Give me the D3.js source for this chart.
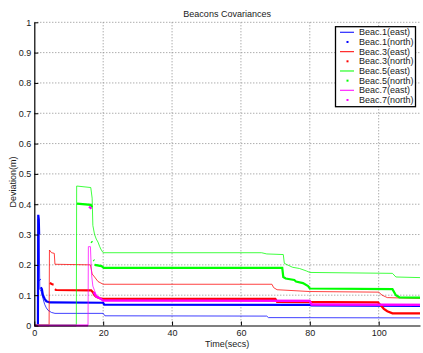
<!DOCTYPE html>
<html>
<head>
<meta charset="utf-8">
<script src="https://cdn.jsdelivr.net/npm/d3@7"></script>
<style>
  html, body { margin: 0; padding: 0; background: #fff; }
  svg { display: block; }
  text { font-family: "Liberation Sans", Arial, Helvetica, sans-serif; fill: #1a1a1a; }
</style>
</head>
<body>
<script>
// Axis ticks
const xTicks = [0, 20, 40, 60, 80, 100];
const yTicks = [0, 0.1, 0.2, 0.3, 0.4, 0.5, 0.6, 0.7, 0.8, 0.9, 1];
const yTickLabels = ["0", "0.1", "0.2", "0.3", "0.4", "0.5", "0.6", "0.7", "0.8", "0.9", "1"];

// Deviation traces [time (s), deviation (m)]; null marks a gap between dot runs
const b1East = [[0,0],[1.0,0],[1.1,0.35],[1.4,0.33],[1.6,0.12],[2.0,0.112],[2.5,0.09],[3.0,0.07],[3.5,0.058],[4.0,0.05],[5.0,0.043],[6.0,0.04],[20,0.04],[20.5,0.032],[67.5,0.031],[68,0.026],[112,0.025]];
const b1North = [[0,0],[1.05,0],[1.15,0.365],[1.3,0.35],[1.4,0.30],null,[1.6,0.152],[1.75,0.15],null,[1.9,0.126],[2.2,0.12],[2.5,0.1],[3.0,0.088],[3.5,0.08],[4.5,0.076],[20,0.075],[20.3,0.069],[80,0.068],[80.5,0.066],[112,0.065]];
const r3East = [[0,0],[4.3,0],[4.4,0.249],[5.0,0.24],[5.8,0.238],[6.0,0.202],[16.3,0.2],[16.8,0.17],[17.5,0.16],[18.5,0.145],[20,0.136],[69,0.136],[69.5,0.125],[70.5,0.118],[80,0.112],[100,0.11],[101,0.1],[102.5,0.092],[112,0.089]];
const r3North = [[0,0],[4.3,0],null,[4.5,0.14],[5.2,0.136],[5.6,0.135],null,[6.0,0.12],[6.3,0.117],[16.5,0.116],[17,0.11],[17.5,0.1],[18,0.095],[19,0.09],[20,0.088],[70,0.088],[70.5,0.078],[99.8,0.076],[100.5,0.068],[101.5,0.055],[102.5,0.047],[104,0.04],[112,0.04]];
const g5East = [[0,0],[12.2,0],[12.3,0.46],[16.4,0.455],[16.8,0.42],[17.0,0.33],[17.5,0.30],[18,0.285],[18.5,0.275],[19,0.26],[19.5,0.248],[20,0.24],[66,0.24],[67.5,0.236],[72.3,0.234],[72.6,0.205],[73.5,0.2],[75,0.192],[77,0.188],[79,0.18],[80,0.175],[104,0.172],[105,0.16],[112,0.158]];
const g5North = [[0,0],[12.2,0],null,[12.4,0.402],[16.4,0.398],[16.8,0.39],null,[16.55,0.277],[16.8,0.274],null,[17.2,0.216],[17.4,0.214],null,[17.5,0.2],[19.5,0.196],[20.2,0.19],[72,0.19],[72.3,0.16],[73,0.155],[75.5,0.15],[76,0.145],[78,0.14],[79.5,0.13],[80,0.122],[104,0.12],[105,0.1],[106,0.093],[112,0.092]];
const m7East = [[0,0],[15.6,0],[15.7,0.26],[16.3,0.26],[16.5,0.2],[16.7,0.16],[17,0.13],[17.5,0.115],[18,0.1],[19,0.09],[20,0.085],[80,0.083],[80.5,0.072],[112,0.07]];
const m7North = [[0,0],[15.6,0],null,[15.9,0.392],[16.6,0.385],null,[17.2,0.11],[17.5,0.105],[18,0.095],[19,0.09],[20,0.082],[80,0.081],[80.5,0.069],[112,0.068]];

const seriesNames = ["Beac.1(east)", "Beac.1(north)", "Beac.3(east)", "Beac.3(north)", "Beac.5(east)", "Beac.5(north)", "Beac.7(east)", "Beac.7(north)"];
const seriesColors = ["#0000ff", "#0000ff", "#ff0000", "#ff0000", "#00ff00", "#00ff00", "#ff00ff", "#ff00ff"];
const seriesData = [b1East, b1North, r3East, r3North, g5East, g5North, m7East, m7North];

const W = 423, H = 353;
const plot = { left: 34.3, right: 420, top: 22.3, bottom: 325.5 };

const svg = d3.select("body").append("svg").attr("width", W).attr("height", H);
svg.append("rect").attr("width", W).attr("height", H).attr("fill", "#fff");

const x = d3.scaleLinear().domain([0, 112]).range([plot.left, plot.right]);
const y = d3.scaleLinear().domain([0, 1]).range([plot.bottom, plot.top]);

// dotted grid
const grid = svg.append("g").attr("stroke", "#8a8a8a").attr("stroke-width", 1).attr("stroke-dasharray", "1,2");
grid.selectAll("line.gx").data(xTicks.filter(d => d > 0)).join("line")
  .attr("x1", d => x(d)).attr("x2", d => x(d))
  .attr("y1", y(1)).attr("y2", y(0));
grid.selectAll("line.gy").data(yTicks.filter(d => d > 0)).join("line")
  .attr("x1", x(0)).attr("x2", plot.right)
  .attr("y1", d => y(d)).attr("y2", d => y(d));

// traces: east as thin lines, north as dense dot runs
const line = d3.line().defined(d => d !== null).x(d => x(d[0])).y(d => y(d[1]));
seriesData.forEach((data, i) => {
  const north = i % 2 === 1;
  svg.append("path")
    .attr("d", line(data))
    .attr("fill", "none")
    .attr("stroke", seriesColors[i])
    .attr("stroke-opacity", north ? 1 : 0.75)
    .attr("stroke-width", north ? 2.2 : 1)
    .attr("stroke-linejoin", "miter");
});

// axes
const xAxis = d3.axisBottom(x).tickValues(xTicks).tickSize(-4).tickSizeOuter(0).tickPadding(4.5);
const yAxis = d3.axisLeft(y).tickValues(yTicks).tickSize(-4).tickSizeOuter(0).tickPadding(3)
  .tickFormat((d, i) => yTickLabels[i]);

const gx = svg.append("g").attr("transform", `translate(0,${plot.bottom})`).call(xAxis);
const gy = svg.append("g").attr("transform", `translate(${plot.left},0)`).call(yAxis);
[gx, gy].forEach(g => {
  g.select(".domain").attr("stroke", "#000").attr("stroke-width", 1.2);
  g.selectAll(".tick line").attr("stroke", "#000");
  g.selectAll(".tick text").attr("font-size", 9).attr("fill", "#1a1a1a")
    .style("font-family", "'Liberation Sans', Arial, sans-serif");
});

// titles
svg.append("text").attr("x", (plot.left + plot.right) / 2).attr("y", 16.5)
  .attr("text-anchor", "middle").attr("font-size", 9).text("Beacons Covariances");
svg.append("text").attr("x", (plot.left + plot.right) / 2).attr("y", 347)
  .attr("text-anchor", "middle").attr("font-size", 9).text("Time(secs)");
svg.append("text").attr("transform", `translate(15.5,${(plot.top + plot.bottom) / 2 + 8}) rotate(-90)`)
  .attr("text-anchor", "middle").attr("font-size", 9).text("Deviation(m)");

// legend
const lg = svg.append("g");
lg.append("rect").attr("x", 335.5).attr("y", 26.7).attr("width", 80).attr("height", 80)
  .attr("fill", "#fff").attr("stroke", "#000").attr("stroke-width", 1.3);
seriesNames.forEach((name, i) => {
  const ry = 32.3 + i * 9.67;
  if (i % 2 === 0) {
    lg.append("line").attr("x1", 340).attr("x2", 354).attr("y1", ry).attr("y2", ry)
      .attr("stroke", seriesColors[i]).attr("stroke-opacity", 0.85).attr("stroke-width", 1.2);
  } else {
    lg.append("rect").attr("x", 346.5).attr("y", ry - 1).attr("width", 2).attr("height", 2)
      .attr("fill", seriesColors[i]);
  }
  lg.append("text").attr("x", 359).attr("y", ry).attr("dy", "0.35em")
    .attr("font-size", 9).text(name);
});
</script>
</body>
</html>
